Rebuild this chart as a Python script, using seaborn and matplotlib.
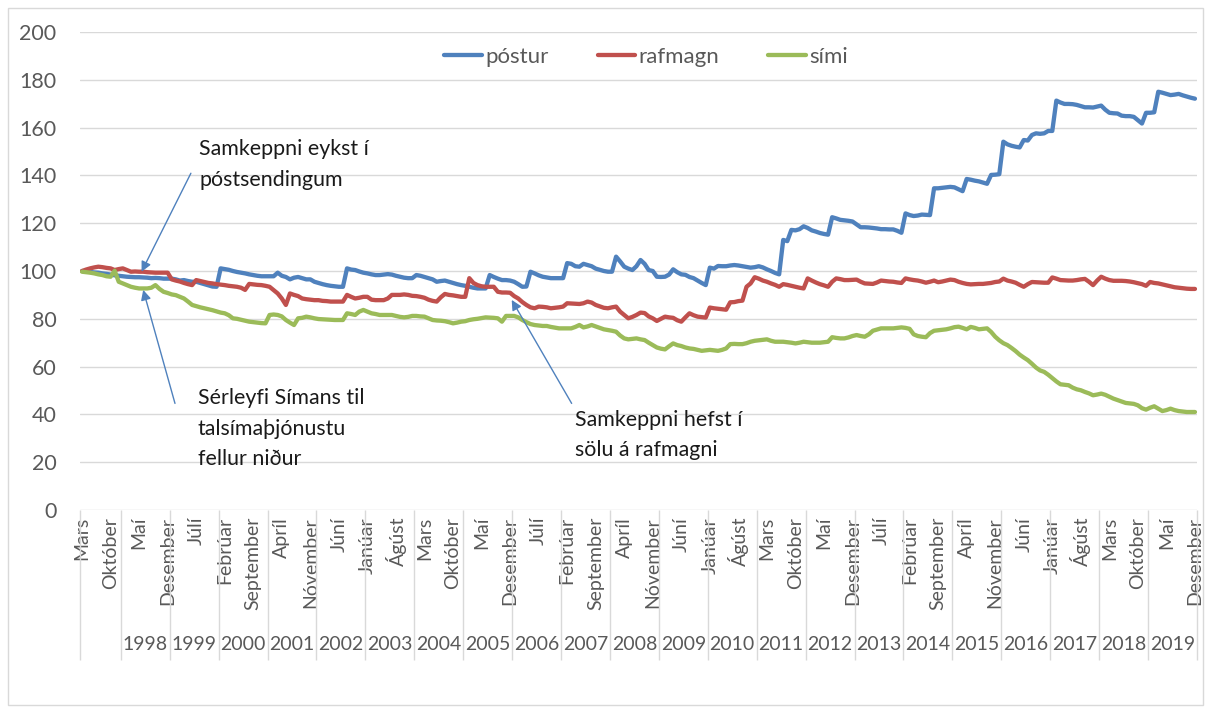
import matplotlib
matplotlib.use("Agg")
import matplotlib.pyplot as plt
import numpy as np
import pandas as pd
import seaborn as sns

# ---------------- data (monthly index, Mars 1997 = 100) ----------------
months = ["Janúar", "Febrúar", "Mars", "Apríl", "Maí", "Júní", "Júlí",
          "Ágúst", "September", "Október", "Nóvember", "Desember"]
start_month = 2          # Mars
start_year = 1997
year_labels = [str(y) for y in range(1998, 2020)]

postur = [
    100.0, 99.8, 99.6, 99.4, 99.3, 99.0, 98.8, 98.5, 98.2, 98.0,
    97.8, 97.6, 97.5, 97.4, 97.4, 97.3, 97.2, 97.0, 97.1, 97.0, 96.8, 96.8,
    96.8, 96.5, 96.0, 96.2, 95.8, 95.5, 95.5, 95.0, 94.5, 94.0, 93.5, 93.4,
    101.1, 100.8, 100.5, 100.0, 99.6, 99.3, 99.0, 98.6, 98.3, 98.0, 97.8, 97.8,
    97.8, 97.8, 99.3, 98.0, 97.5, 96.5, 97.2, 97.5, 97.0, 96.5, 96.5, 95.5,
    95.0, 94.5, 94.1, 93.8, 93.6, 93.4, 93.4, 101.1, 100.6, 100.4, 99.8, 99.3,
    99.0, 98.6, 98.3, 98.3, 98.5, 98.7, 98.5, 98.0, 97.6, 97.2, 97.0, 97.0,
    98.3, 98.0, 97.5, 97.0, 96.5, 95.5, 95.8, 96.0, 95.5, 95.0, 94.5, 94.1,
    93.8, 93.4, 93.0, 92.7, 92.7, 92.7, 98.3, 97.5, 96.8, 96.2, 96.2, 96.0,
    95.5, 94.5, 93.4, 93.5, 99.7, 99.0, 98.2, 97.6, 97.3, 97.0, 97.0, 97.0,
    97.0, 103.3, 103.0, 102.0, 101.8, 103.0, 102.5, 102.0, 101.0, 100.5, 100.0, 99.7,
    99.7, 106.0, 104.0, 101.8, 101.0, 100.4, 102.0, 104.6, 103.0, 100.4, 100.0, 97.6,
    97.5, 97.6, 98.5, 100.7, 99.5, 98.6, 98.4, 97.5, 97.0, 96.0, 95.0, 94.1,
    101.4, 101.0, 102.1, 102.0, 102.0, 102.3, 102.5, 102.3, 102.0, 101.7, 101.4, 101.6,
    102.0, 101.5, 100.7, 100.0, 99.2, 98.6, 113.0, 112.5, 117.2, 117.0, 117.5, 118.7,
    118.0, 117.0, 116.5, 115.9, 115.5, 115.2, 122.5, 122.0, 121.4, 121.2, 121.0, 120.7,
    119.5, 118.3, 118.3, 118.2, 118.0, 117.8, 117.5, 117.5, 117.4, 117.4, 116.8, 116.0,
    124.1, 123.4, 123.0, 123.2, 123.6, 123.5, 123.4, 134.6, 134.6, 134.8, 135.0, 135.2,
    135.0, 134.2, 133.4, 138.5, 138.2, 137.8, 137.5, 137.0, 136.5, 140.2, 140.3, 140.5,
    154.1, 153.0, 152.4, 152.0, 151.7, 154.8, 154.6, 156.9, 157.6, 157.4, 157.6, 158.6,
    158.6, 171.3, 170.5, 169.9, 169.9, 169.8, 169.5, 169.0, 168.5, 168.5, 168.4, 168.8,
    169.2, 167.5, 166.2, 166.0, 165.9, 165.0, 164.8, 164.8, 164.5, 163.1, 161.7, 166.2,
    166.2, 166.4, 175.0, 174.6, 174.1, 173.6, 173.8, 174.1, 173.5, 173.0, 172.5, 172.1,
]

rafmagn = [
    100.0, 100.6, 101.1, 101.5, 101.8, 101.6, 101.3, 101.1, 100.4, 100.8,
    101.1, 100.4, 99.7, 99.8, 99.7, 99.7, 99.5, 99.4, 99.3, 99.3, 99.3, 99.3,
    96.5, 96.0, 95.6, 95.0, 94.5, 94.1, 96.2, 95.8, 95.4, 95.0, 94.8, 94.5,
    94.3, 94.1, 93.8, 93.6, 93.4, 93.0, 92.1, 94.6, 94.4, 94.2, 94.1, 93.8,
    93.4, 92.0, 90.6, 88.5, 85.8, 90.6, 90.0, 89.5, 88.5, 88.2, 88.0, 87.8,
    87.8, 87.5, 87.4, 87.2, 87.2, 87.2, 87.2, 90.0, 89.2, 88.5, 88.8, 89.2,
    89.2, 88.0, 87.8, 87.8, 87.8, 88.5, 90.0, 90.0, 90.0, 90.2, 90.0, 89.6,
    89.5, 89.2, 88.8, 88.0, 87.5, 87.2, 89.0, 90.4, 90.0, 89.8, 89.5, 89.2,
    89.2, 97.0, 95.0, 94.1, 93.6, 93.4, 93.4, 93.4, 91.3, 91.0, 91.0, 90.9,
    89.5, 88.5, 87.0, 85.8, 84.8, 84.4, 85.1, 85.0, 84.8, 84.4, 84.6, 84.8,
    85.1, 86.5, 86.4, 86.3, 86.2, 86.5, 87.2, 86.8, 85.8, 85.2, 84.6, 84.4,
    84.8, 85.1, 83.0, 81.6, 80.2, 80.8, 81.6, 82.6, 82.4, 81.0, 80.2, 79.1,
    80.0, 80.9, 80.6, 80.4, 79.4, 78.8, 80.6, 82.3, 81.5, 80.9, 80.7, 80.5,
    84.7, 84.4, 84.2, 84.0, 83.8, 86.9, 87.0, 87.4, 87.6, 93.4, 94.8, 97.4,
    96.8, 96.0, 95.5, 94.8, 94.2, 93.4, 94.5, 94.2, 93.8, 93.4, 93.0, 92.7,
    96.9, 96.0, 95.2, 94.5, 94.0, 93.4, 95.5, 96.9, 96.6, 96.2, 96.2, 96.3,
    96.4, 95.5, 94.8, 94.7, 94.6, 95.2, 96.0, 95.8, 95.6, 95.5, 95.2, 95.0,
    96.9, 96.5, 96.2, 96.0, 95.6, 95.1, 95.5, 96.0, 95.3, 95.6, 96.0, 96.4,
    96.2, 95.5, 95.0, 94.6, 94.4, 94.5, 94.6, 94.6, 94.8, 95.0, 95.4, 95.6,
    96.8, 96.0, 95.6, 95.1, 94.2, 93.4, 94.5, 95.4, 95.3, 95.2, 95.1, 95.1,
    97.3, 96.8, 96.2, 96.1, 96.0, 96.0, 96.2, 96.5, 96.7, 95.5, 94.1, 96.0,
    97.6, 96.8, 96.2, 95.9, 95.9, 95.9, 95.8, 95.6, 95.3, 94.9, 94.5, 93.8,
    95.4, 95.0, 94.8, 94.4, 94.0, 93.6, 93.2, 93.0, 92.8, 92.6, 92.5, 92.5,
]

simi = [
    99.7, 99.5, 99.3, 99.0, 98.6, 98.3, 97.8, 97.6, 100.1, 95.5,
    94.8, 94.1, 93.4, 93.0, 92.7, 92.7, 92.7, 93.0, 94.1, 92.5, 91.3, 90.8,
    90.2, 89.9, 89.2, 88.5, 87.2, 85.8, 85.3, 84.8, 84.4, 84.0, 83.6, 83.1,
    82.6, 82.3, 81.5, 80.2, 80.0, 79.6, 79.2, 78.8, 78.6, 78.4, 78.2, 78.1,
    81.6, 81.8, 81.6, 81.0, 79.5, 78.4, 77.4, 80.2, 80.4, 80.9, 80.6, 80.2,
    79.9, 79.8, 79.7, 79.6, 79.5, 79.5, 79.5, 82.3, 82.0, 81.6, 83.0, 83.7,
    83.0, 82.3, 82.0, 81.6, 81.6, 81.6, 81.6, 81.2, 80.8, 80.6, 80.8, 81.2,
    81.2, 81.0, 80.9, 80.2, 79.5, 79.3, 79.2, 79.0, 78.6, 78.1, 78.4, 78.8,
    79.0, 79.5, 79.8, 80.0, 80.3, 80.6, 80.5, 80.4, 80.2, 78.8, 81.2, 81.2,
    81.2, 80.6, 79.5, 78.6, 77.8, 77.4, 77.2, 77.0, 77.0, 76.6, 76.3, 76.0,
    76.0, 76.0, 76.0, 76.6, 77.4, 76.4, 76.8, 77.4, 76.8, 76.2, 75.6, 75.3,
    75.0, 74.6, 73.0, 71.8, 71.4, 71.6, 71.8, 71.4, 71.1, 70.0, 69.0, 68.0,
    67.5, 67.2, 68.5, 69.7, 69.0, 68.6, 68.0, 67.6, 67.4, 67.0, 66.6, 66.8,
    67.0, 66.8, 66.6, 67.0, 67.6, 69.4, 69.5, 69.4, 69.4, 69.8, 70.4, 70.8,
    71.0, 71.2, 71.4, 70.8, 70.4, 70.4, 70.4, 70.2, 70.0, 69.7, 70.0, 70.4,
    70.2, 70.0, 70.0, 70.0, 70.2, 70.4, 72.3, 72.0, 71.8, 71.8, 72.2, 72.8,
    73.2, 72.8, 72.5, 73.5, 75.0, 75.5, 76.0, 76.0, 76.0, 76.0, 76.2, 76.4,
    76.2, 75.8, 73.5, 72.8, 72.5, 72.3, 74.0, 75.0, 75.2, 75.4, 75.6, 76.0,
    76.5, 76.7, 76.2, 75.6, 76.6, 76.2, 75.6, 75.8, 76.0, 74.5, 72.5, 71.0,
    69.8, 69.0, 67.8, 66.5, 65.0, 63.8, 62.7, 61.2, 59.6, 58.4, 57.8, 56.6,
    55.2, 53.8, 52.6, 52.4, 52.2, 51.2, 50.5, 50.1, 49.4, 48.8, 48.0, 48.3,
    48.7, 48.2, 47.4, 46.6, 46.0, 45.4, 44.8, 44.6, 44.4, 43.8, 42.6, 42.0,
    42.8, 43.4, 42.4, 41.4, 41.8, 42.4, 41.8, 41.4, 41.2, 41.0, 41.0, 41.0,
]

series_names = ["póstur", "rafmagn", "sími"]
series_colors = ["#4F81BD", "#C0504D", "#9BBB59"]

# ---------------- build long-form table ----------------
frames = []
for name, vals in zip(series_names, [postur, rafmagn, simi]):
    frames.append(pd.DataFrame({"t": np.arange(len(vals)), "gildi": vals, "röð": name}))
df = pd.concat(frames, ignore_index=True)
n = max(len(postur), len(rafmagn), len(simi))

# ---------------- figure ----------------
sns.set_theme(style="white")
plt.rcParams["font.family"] = ["Lato", "DejaVu Sans"]

W, H = 1210, 711
fig = plt.figure(figsize=(W / 100, H / 100), dpi=100)
L, R, T, B = 80, 1197, 32, 510
ax = fig.add_axes([L / W, 1 - B / H, (R - L) / W, (B - T) / H])

sns.lineplot(data=df, x="t", y="gildi", hue="röð", palette=dict(zip(series_names, series_colors)),
             hue_order=series_names, linewidth=3.1, ax=ax, legend=True)
for ln in ax.get_lines():
    ln.set_solid_joinstyle("round")
    ln.set_solid_capstyle("round")

ax.set_xlim(-0.5, n - 0.5)
ax.set_ylim(0, 200)
ax.set_yticks(np.arange(0, 201, 20))
ax.yaxis.grid(True, color="#D9D9D9", linewidth=1.0)
ax.xaxis.grid(False)
ax.set_axisbelow(True)
for s in ax.spines.values():
    s.set_visible(False)
ax.set_xlabel("")
ax.set_ylabel("")

grey = "#595959"
ax.tick_params(axis="y", length=0, pad=17, labelsize=15.5, labelcolor=grey)

tick_pos = list(range(0, n, 7))
tick_lab = [months[(start_month + i) % 12] for i in tick_pos]
ax.set_xticks(tick_pos)
ax.set_xticklabels(tick_lab, rotation=90, ha="center", va="top")
ax.tick_params(axis="x", length=0, pad=5, labelsize=14, labelcolor=grey)

# year separators and year labels (multi-level category axis)
xt = ax.get_xaxis_transform()
first_jan = (12 - start_month) % 12          # index of first January
seps = [-0.5] + [first_jan - 0.5 + 12 * k for k in range(len(year_labels) + 1)]
ax.vlines(seps, (B - 660) / (B - T), 0, transform=xt, colors="#D9D9D9", linewidth=1.0, clip_on=False)
for k, yl in enumerate(year_labels):
    ax.text(first_jan - 0.5 + 12 * k + 6, (B - 645) / (B - T), yl, transform=xt,
            ha="center", va="center", fontsize=14, color=grey)

# legend
handles, labels = ax.get_legend_handles_labels()
ax.legend(handles, labels, loc="center", bbox_to_anchor=(0.507, 0.948), ncol=3, frameon=False,
          fontsize=16, handlelength=1.7, handletextpad=0.15, columnspacing=2.2,
          labelcolor=grey)

# annotations
acol = "#4F81BD"
tcol = "#1A1A1A"
ap = dict(arrowstyle="-|>", color=acol, lw=1.0, mutation_scale=15, shrinkA=0, shrinkB=0)
ax.annotate("", xy=(14.6, 99.7), xytext=(26.7, 140.9), arrowprops=ap)
ax.text(28.7, 144.6, "Samkeppni eykst í\npóstsendingum", ha="left", va="center",
        fontsize=15.4, linespacing=1.65, color=tcol)

ax.annotate("", xy=(15.0, 92.1), xytext=(22.8, 44.6), arrowprops=ap)
ax.text(28.4, 34.0, "Sérleyfi Símans til\ntalsímaþjónustu\nfellur niður", ha="left", va="center",
        fontsize=15.4, linespacing=1.65, color=tcol)

ax.annotate("", xy=(105.4, 87.9), xytext=(120.1, 44.6), arrowprops=ap)
ax.text(120.9, 31.5, "Samkeppni hefst í\nsölu á rafmagni", ha="left", va="center",
        fontsize=15.4, linespacing=1.65, color=tcol)

# chart border
fig.add_artist(plt.Rectangle((8 / W, 6 / H), 1195 / W, 697 / H, fill=False,
                             edgecolor="#D9D9D9", linewidth=1.0, transform=fig.transFigure))

fig.savefig("out.png", dpi=100, facecolor="white")
